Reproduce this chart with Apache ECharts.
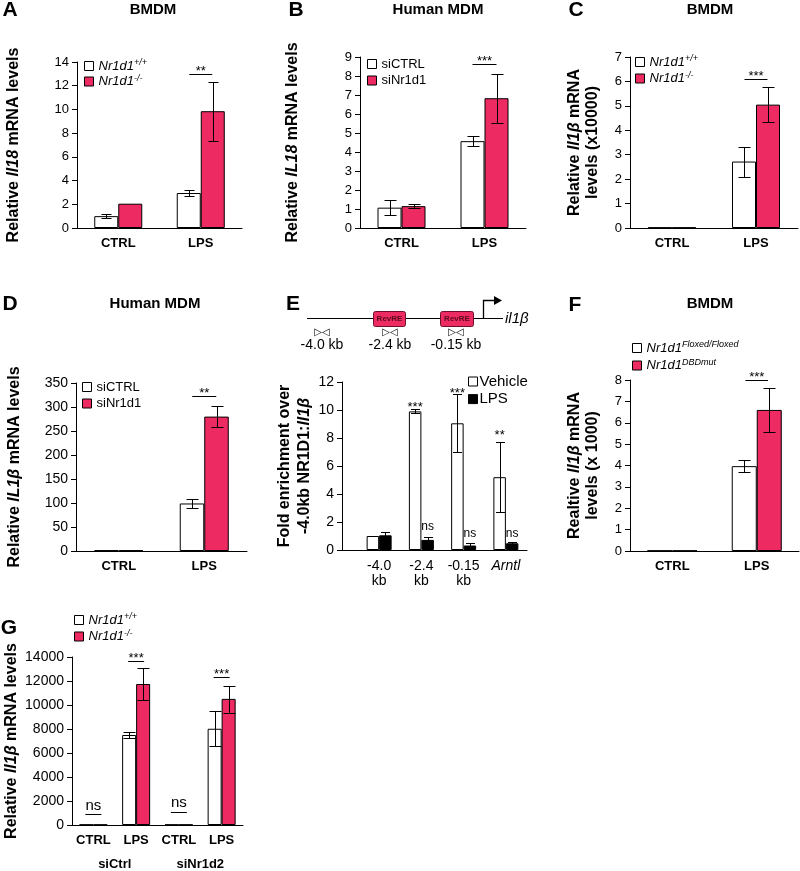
<!DOCTYPE html>
<html><head><meta charset="utf-8">
<script src="https://cdn.jsdelivr.net/npm/echarts@6/dist/echarts.min.js"></script>
<style>html,body{margin:0;padding:0;background:#fff}#c{width:800px;height:871px}</style>
</head><body><div id="c"></div>
<script>
const FONT = '"Liberation Sans", Arial, Helvetica, sans-serif';
const PINK = '#ee2a62';

// ---------- categories ----------
const catsCL = ['CTRL', 'LPS'];
const catsE = ['-4.0\nkb', '-2.4\nkb', '-0.15\nkb', 'Arntl'];
const catsG = ['CTRL', 'LPS', 'CTRL', 'LPS'];
const groupsG = ['siCtrl', 'siNr1d2'];

// ---------- panel A (BMDM, Il18) ----------
const aNames = ['Nr1d1^+/+', 'Nr1d1^-/-'];
const aWT = [1.0, 2.95], aWTlo = [0.88, 2.68], aWThi = [1.2, 3.18];
const aKO = [2.05, 9.85], aKOlo = [null, 7.37], aKOhi = [null, 12.3];
const aSigCat = [1], aSigY = [13.0], aSigTxt = ['**'];
const aTicks = {max: 14, interval: 2};

// ---------- panel B (Human MDM, IL18) ----------
const bNames = ['siCTRL', 'siNr1d1'];
const bCtl = [1.07, 4.57], bCtlLo = [0.7, 4.33], bCtlHi = [1.45, 4.83];
const bSi = [1.15, 6.83], bSiLo = [1.03, 5.5], bSiHi = [1.28, 8.13];
const bSigCat = [1], bSigY = [8.63], bSigTxt = ['***'];
const bTicks = {max: 9, interval: 1};

// ---------- panel C (BMDM, Il1b x10000) ----------
const cWT = [0.02, 2.72], cWTlo = [null, 2.1], cWThi = [null, 3.32];
const cKO = [0.02, 5.05], cKOlo = [null, 4.32], cKOhi = [null, 5.79];
const cSigCat = [1], cSigY = [6.1], cSigTxt = ['***'];
const cTicks = {max: 7, interval: 1};

// ---------- panel D (Human MDM, IL1b) ----------
const dCtl = [1.5, 99], dCtlLo = [null, 89.5], dCtlHi = [null, 108.5];
const dSi = [1.5, 280], dSiLo = [null, 258], dSiHi = [null, 302];
const dSigCat = [1], dSigY = [323.5], dSigTxt = ['**'];
const dTicks = {max: 350, interval: 50};

// ---------- panel E (ChIP fold enrichment) ----------
const eNames = ['Vehicle', 'LPS'];
const eVeh = [1.0, 9.9, 9.05, 5.2], eVehLo = [null, 9.8, 6.97, 2.74], eVehHi = [null, 10.05, 11.15, 7.7];
const eLps = [1.05, 0.72, 0.32, 0.48], eLpsLo = [0.82, 0.48, 0.12, 0.36], eLpsHi = [1.3, 0.95, 0.52, 0.6];
const eVehSigCat = [1, 2, 3], eVehSigY = [10.5, 11.5, 8.47], eVehSigTxt = ['***', '***', '**'];
const eLpsSigCat = [1, 2, 3], eLpsSigY = [1.67, 1.17, 1.19], eLpsSigTxt = ['ns', 'ns', 'ns'];
const eTicks = {max: 12, interval: 2};
const ePrimers = ['-4.0 kb', '-2.4 kb', '-0.15 kb'];

// ---------- panel F (BMDM, DBDmut) ----------
const fNames = ['Nr1d1^Floxed/Floxed', 'Nr1d1^DBDmut'];
const fFl = [0.02, 3.97], fFlLo = [null, 3.7], fFlHi = [null, 4.27];
const fMut = [0.02, 6.6], fMutLo = [null, 5.58], fMutHi = [null, 7.63];
const fSigCat = [1], fSigY = [8.0], fSigTxt = ['***'];
const fTicks = {max: 8, interval: 1};

// ---------- panel G (siCtrl / siNr1d2) ----------
const gWT = [30, 7500, 30, 8020], gWTlo = [null, 7220, null, 6590], gWThi = [null, 7770, null, 9500];
const gKO = [30, 11750, 30, 10510], gKOlo = [null, 10380, null, 9330], gKOhi = [null, 13090, null, 11580];
const gSigCat = [0, 1, 2, 3], gSigY = [906, 13670, 1100, 12300], gSigTxt = ['ns', '***', 'ns', '***'];
const gTicks = {max: 14000, interval: 2000};

// ================= builders =================
const grids = [], xAxes = [], yAxes = [], series = [], legends = [], graphics = [];

function errSeries(xi, yi, lo, hi, off, cap) {
  const data = [];
  lo.forEach((l, i) => { if (l != null) data.push([i, l, hi[i]]); });
  return {
    type: 'custom', xAxisIndex: xi, yAxisIndex: yi, data, z: 5, silent: true,
    renderItem: (prm, api) => {
      const c = api.value(0);
      const x = Math.round(api.coord([c, 0])[0] + off) + 0.5;
      const y1 = Math.round(api.coord([c, api.value(1)])[1]) + 0.5;
      const y2 = Math.round(api.coord([c, api.value(2)])[1]) + 0.5;
      const st = {stroke: '#000', lineWidth: 1};
      return {type: 'group', children: [
        {type: 'line', shape: {x1: x, y1: y1, x2: x, y2: y2}, style: st},
        {type: 'line', shape: {x1: x - cap / 2, y1: y1, x2: x + cap / 2, y2: y1}, style: st},
        {type: 'line', shape: {x1: x - cap / 2, y1: y2, x2: x + cap / 2, y2: y2}, style: st}
      ]};
    }
  };
}

function sigSeries(xi, yi, s, p) {
  const off = s.bar == null ? 0 : (s.bar - (p.bars.length - 1) / 2) * p.barWidth;
  return {
    type: 'custom', xAxisIndex: xi, yAxisIndex: yi, silent: true, z: 6,
    data: s.cats.map((c, i) => [c, s.ys[i]]),
    renderItem: (prm, api) => {
      const pt = api.coord([api.value(0), api.value(1)]);
      const x = pt[0] + off, y = pt[1];
      const t = s.txt[prm.dataIndex];
      const star = t.indexOf('*') >= 0;
      const ch = [];
      if (s.half) {
        const ly = Math.round(y) + 0.5;
        ch.push({type: 'line', shape: {x1: x - s.half, y1: ly, x2: x + s.half, y2: ly}, style: {stroke: '#000', lineWidth: 1}});
      }
      const ty = s.half ? y + (star ? 4 : -1) : y + (star ? 4 : 0);
      const va = s.half ? 'bottom' : 'middle';
      ch.push({type: 'text', x: x, y: ty, style: {
        text: t, fill: '#000', font: (star ? s.starSize : s.nsSize) + 'px ' + FONT,
        align: 'center', verticalAlign: va, textAlign: 'center', textVerticalAlign: va
      }});
      return {type: 'group', children: ch};
    }
  };
}

function addPanel(p) {
  const gi = grids.length;
  grids.push({left: p.left, top: p.top, width: p.width, height: p.height, containLabel: false});
  const xi = xAxes.length;
  xAxes.push({
    type: 'category', gridIndex: gi, data: p.cats,
    axisLine: {show: true, lineStyle: {color: '#000', width: 1}},
    axisTick: {show: false},
    axisLabel: Object.assign({interval: 0, color: '#000', fontFamily: FONT, fontSize: 13, fontWeight: 'bold', margin: 9}, p.xLabel || {})
  });
  const yi = yAxes.length;
  const lh = p.nameLH || 19;
  yAxes.push({
    type: 'value', gridIndex: gi, min: 0, max: p.ticks.max, interval: p.ticks.interval, offset: p.yOffset || 0,
    axisLine: {show: true, lineStyle: {color: '#000', width: 1}},
    axisTick: {show: true, length: 5, lineStyle: {color: '#000'}},
    splitLine: {show: false},
    axisLabel: {color: '#000', fontFamily: FONT, fontSize: p.tickSize || 13, margin: 8, formatter: v => String(v)},
    name: p.name, nameLocation: 'middle', nameRotate: 90, nameGap: p.nameGap,
    nameTextStyle: {color: '#000', fontFamily: FONT, fontSize: 16, fontWeight: 'bold', lineHeight: lh,
      rich: {it: {fontStyle: 'italic', fontWeight: 'bold', fontSize: 16, fontFamily: FONT, color: '#000', lineHeight: lh}}}
  });
  const n = p.bars.length;
  p.bars.forEach(b => {
    series.push({type: 'bar', name: b.name, xAxisIndex: xi, yAxisIndex: yi, data: b.data,
      barWidth: p.barWidth, barGap: '0%', silent: true,
      itemStyle: {color: b.color, borderColor: '#000', borderWidth: 1}});
  });
  p.bars.forEach((b, k) => {
    const off = (k - (n - 1) / 2) * p.barWidth;
    if (b.lo) series.push(errSeries(xi, yi, b.lo, b.hi, off, p.cap));
  });
  (p.sigs || []).forEach(s => series.push(sigSeries(xi, yi, s, p)));
  return {gi, xi, yi};
}

const legendRich = {
  i: {fontStyle: 'italic', fontSize: 13, fontFamily: FONT, color: '#000', lineHeight: 16},
  s: {fontStyle: 'italic', fontSize: 9, fontFamily: FONT, color: '#000', lineHeight: 7, verticalAlign: 'top'}
};
function legendFmt(name) {
  const k = name.indexOf('^');
  if (k < 0) return name;
  return '{i|' + name.slice(0, k) + '}{s|' + name.slice(k + 1) + '}';
}
function addLegend(names, left, top, extra) {
  legends.push(Object.assign({
    data: names, left, top, orient: 'vertical', icon: 'rect', itemWidth: 9, itemHeight: 9,
    itemGap: 0.5, padding: 0, selectedMode: false, formatter: legendFmt,
    itemStyle: {borderColor: '#000', borderWidth: 1},
    textStyle: {fontSize: 13, fontFamily: FONT, color: '#000', lineHeight: 16, rich: legendRich}
  }, extra || {}));
}
function gtext(x, y, text, font, align) {
  graphics.push({type: 'text', x, y, silent: true, style: {
    text, font, fill: '#000', align: align || 'center', verticalAlign: 'middle',
    textAlign: align || 'center', textVerticalAlign: 'middle'}});
}

// ================= panels =================
const wtName = aNames[0], koName = aNames[1];

addPanel({left: 77, top: 62, width: 165, height: 166, cats: catsCL, ticks: aTicks, barWidth: 24, cap: 10,
  name: 'Relative {it|Il18} mRNA levels', nameGap: 54,
  bars: [{name: wtName, data: aWT, lo: aWTlo, hi: aWThi, color: '#fff'},
         {name: koName, data: aKO, lo: aKOlo, hi: aKOhi, color: PINK}],
  sigs: [{cats: aSigCat, ys: aSigY, txt: aSigTxt, half: 11.5, starSize: 13, nsSize: 14}]});
addLegend(aNames, 84, 58, {itemGap: -0.5});

addPanel({left: 360, top: 57, width: 166, height: 171, cats: catsCL, ticks: bTicks, barWidth: 24, cap: 12,
  name: 'Relative {it|IL18} mRNA levels', nameGap: 58,
  bars: [{name: bNames[0], data: bCtl, lo: bCtlLo, hi: bCtlHi, color: '#fff'},
         {name: bNames[1], data: bSi, lo: bSiLo, hi: bSiHi, color: PINK}],
  sigs: [{cats: bSigCat, ys: bSigY, txt: bSigTxt, half: 12, starSize: 13, nsSize: 14}]});
addLegend(bNames, 367, 56);

addPanel({left: 630, top: 57, width: 168, height: 171, cats: catsCL, ticks: cTicks, barWidth: 24, cap: 12,
  name: 'Relative {it|Il1β} mRNA\nlevels (x10000)', nameGap: 28, nameLH: 18,
  bars: [{name: wtName, data: cWT, lo: cWTlo, hi: cWThi, color: '#fff'},
         {name: koName, data: cKO, lo: cKOlo, hi: cKOhi, color: PINK}],
  sigs: [{cats: cSigCat, ys: cSigY, txt: cSigTxt, half: 11.5, starSize: 13, nsSize: 14}]});
addLegend(aNames, 635, 54);

addPanel({left: 76, top: 383, width: 171, height: 168, cats: catsCL, ticks: dTicks, barWidth: 24.5, cap: 12,
  tickSize: 14, name: 'Relative {it|IL1β} mRNA levels', nameGap: 52,
  bars: [{name: bNames[0], data: dCtl, lo: dCtlLo, hi: dCtlHi, color: '#fff'},
         {name: bNames[1], data: dSi, lo: dSiLo, hi: dSiHi, color: PINK}],
  sigs: [{cats: dSigCat, ys: dSigY, txt: dSigTxt, half: 12, starSize: 13, nsSize: 14}]});
addLegend(bNames, 82, 379);

addPanel({left: 358, top: 382, width: 169, height: 168, cats: catsE, ticks: eTicks, barWidth: 12.5, cap: 9,
  tickSize: 14, yOffset: 16, name: 'Fold enrichment over\n-4.0kb NR1D1:{it|Il1β}', nameGap: 12, nameLH: 20,
  xLabel: {fontWeight: 'normal', fontSize: 14, lineHeight: 15,
    formatter: v => v === 'Arntl' ? '{it|Arntl}' : v,
    rich: {it: {fontStyle: 'italic', fontSize: 14, fontFamily: FONT, color: '#000', lineHeight: 15}}},
  bars: [{name: eNames[0], data: eVeh, lo: eVehLo, hi: eVehHi, color: '#fff'},
         {name: eNames[1], data: eLps, lo: eLpsLo, hi: eLpsHi, color: '#000'}],
  sigs: [{cats: eVehSigCat, ys: eVehSigY, txt: eVehSigTxt, bar: 0, half: 0, starSize: 13, nsSize: 12},
         {cats: eLpsSigCat, ys: eLpsSigY, txt: eLpsSigTxt, bar: 1, half: 0, starSize: 13, nsSize: 12}]});
addLegend(eNames, 468, 373, {itemGap: 0.6, textStyle: {fontSize: 15, fontFamily: FONT, color: '#000', lineHeight: 17, padding: [0, 0, 0, -3]}});

addPanel({left: 630, top: 380, width: 169, height: 171, cats: catsCL, ticks: fTicks, barWidth: 25, cap: 12,
  name: 'Realtive {it|Il1β} mRNA\nlevels (x 1000)', nameGap: 28, nameLH: 18,
  bars: [{name: fNames[0], data: fFl, lo: fFlLo, hi: fFlHi, color: '#fff'},
         {name: fNames[1], data: fMut, lo: fMutLo, hi: fMutHi, color: PINK}],
  sigs: [{cats: fSigCat, ys: fSigY, txt: fSigTxt, half: 11.3, starSize: 13, nsSize: 14}]});
addLegend(fNames, 632, 340, {itemGap: 1.5});

const gp = addPanel({left: 72, top: 657, width: 171, height: 170, cats: catsG, ticks: gTicks, barWidth: 14, cap: 12,
  tickSize: 14, name: 'Relative {it|Il1β} mRNA levels', nameGap: 48,
  bars: [{name: wtName, data: gWT, lo: gWTlo, hi: gWThi, color: '#fff'},
         {name: koName, data: gKO, lo: gKOlo, hi: gKOhi, color: PINK}],
  sigs: [{cats: gSigCat, ys: gSigY, txt: gSigTxt, half: 8, starSize: 13, nsSize: 15}]});
addLegend(aNames, 74, 612);
// group labels under panel G
xAxes.push({type: 'category', gridIndex: gp.gi, data: groupsG, position: 'bottom', offset: 24,
  axisLine: {show: false}, axisTick: {show: false},
  axisLabel: {interval: 0, color: '#000', fontFamily: FONT, fontSize: 13, fontWeight: 'bold', margin: 9}});

// ================= texts & schematic =================
const LET = 'bold 21px ' + FONT, TTL = 'bold 15px ' + FONT;
gtext(10, 10, 'A', LET); gtext(296, 10, 'B', LET); gtext(576, 10, 'C', LET);
gtext(10, 304, 'D', LET); gtext(293, 304, 'E', LET); gtext(575, 305, 'F', LET); gtext(9, 628, 'G', LET);
gtext(153, 10, 'BMDM', TTL); gtext(438, 10, 'Human MDM', TTL); gtext(710, 10, 'BMDM', TTL);
gtext(155, 304, 'Human MDM', TTL); gtext(710, 304, 'BMDM', TTL);

// x-axis line of E extends to the shifted y-axis
graphics.push({type: 'line', silent: true, shape: {x1: 342, y1: 550.5, x2: 358, y2: 550.5}, style: {stroke: '#000', lineWidth: 1}});

// promoter schematic of panel E
graphics.push({type: 'line', silent: true, shape: {x1: 307, y1: 318.5, x2: 503, y2: 318.5}, style: {stroke: '#000', lineWidth: 1}});
[[373, 32], [440, 33]].forEach(([x, w]) => {
  graphics.push({type: 'rect', silent: true, shape: {x: x + 0.5, y: 311.5, width: w, height: 15, r: 2},
    style: {fill: PINK, stroke: '#6b0f2a', lineWidth: 1}});
  gtext(x + w / 2 + 0.5, 319, 'RevRE', 'bold 8px ' + FONT);
  graphics[graphics.length - 1].style.fill = '#5a0a1e';
});
graphics.push({type: 'polyline', silent: true, shape: {points: [[483.5, 318], [483.5, 300.5], [495, 300.5]]}, style: {stroke: '#000', lineWidth: 1.3, fill: null}});
graphics.push({type: 'polygon', silent: true, shape: {points: [[494, 296], [502, 300.5], [494, 305]]}, style: {fill: '#000'}});
gtext(505, 319, 'il1β', 'italic 15px ' + FONT, 'left');
[322, 390, 456].forEach((x, i) => {
  gtext(x, 332, '▷◁', '10px "DejaVu Sans"');
  gtext(x, 345, ePrimers[i], '14px ' + FONT);
});

const chart = echarts.init(document.getElementById('c'), null, {renderer: 'canvas'});
chart.setOption({
  animation: false,
  textStyle: {fontFamily: FONT},
  grid: grids, xAxis: xAxes, yAxis: yAxes, series: series, legend: legends, graphic: graphics
});
</script></body></html>
